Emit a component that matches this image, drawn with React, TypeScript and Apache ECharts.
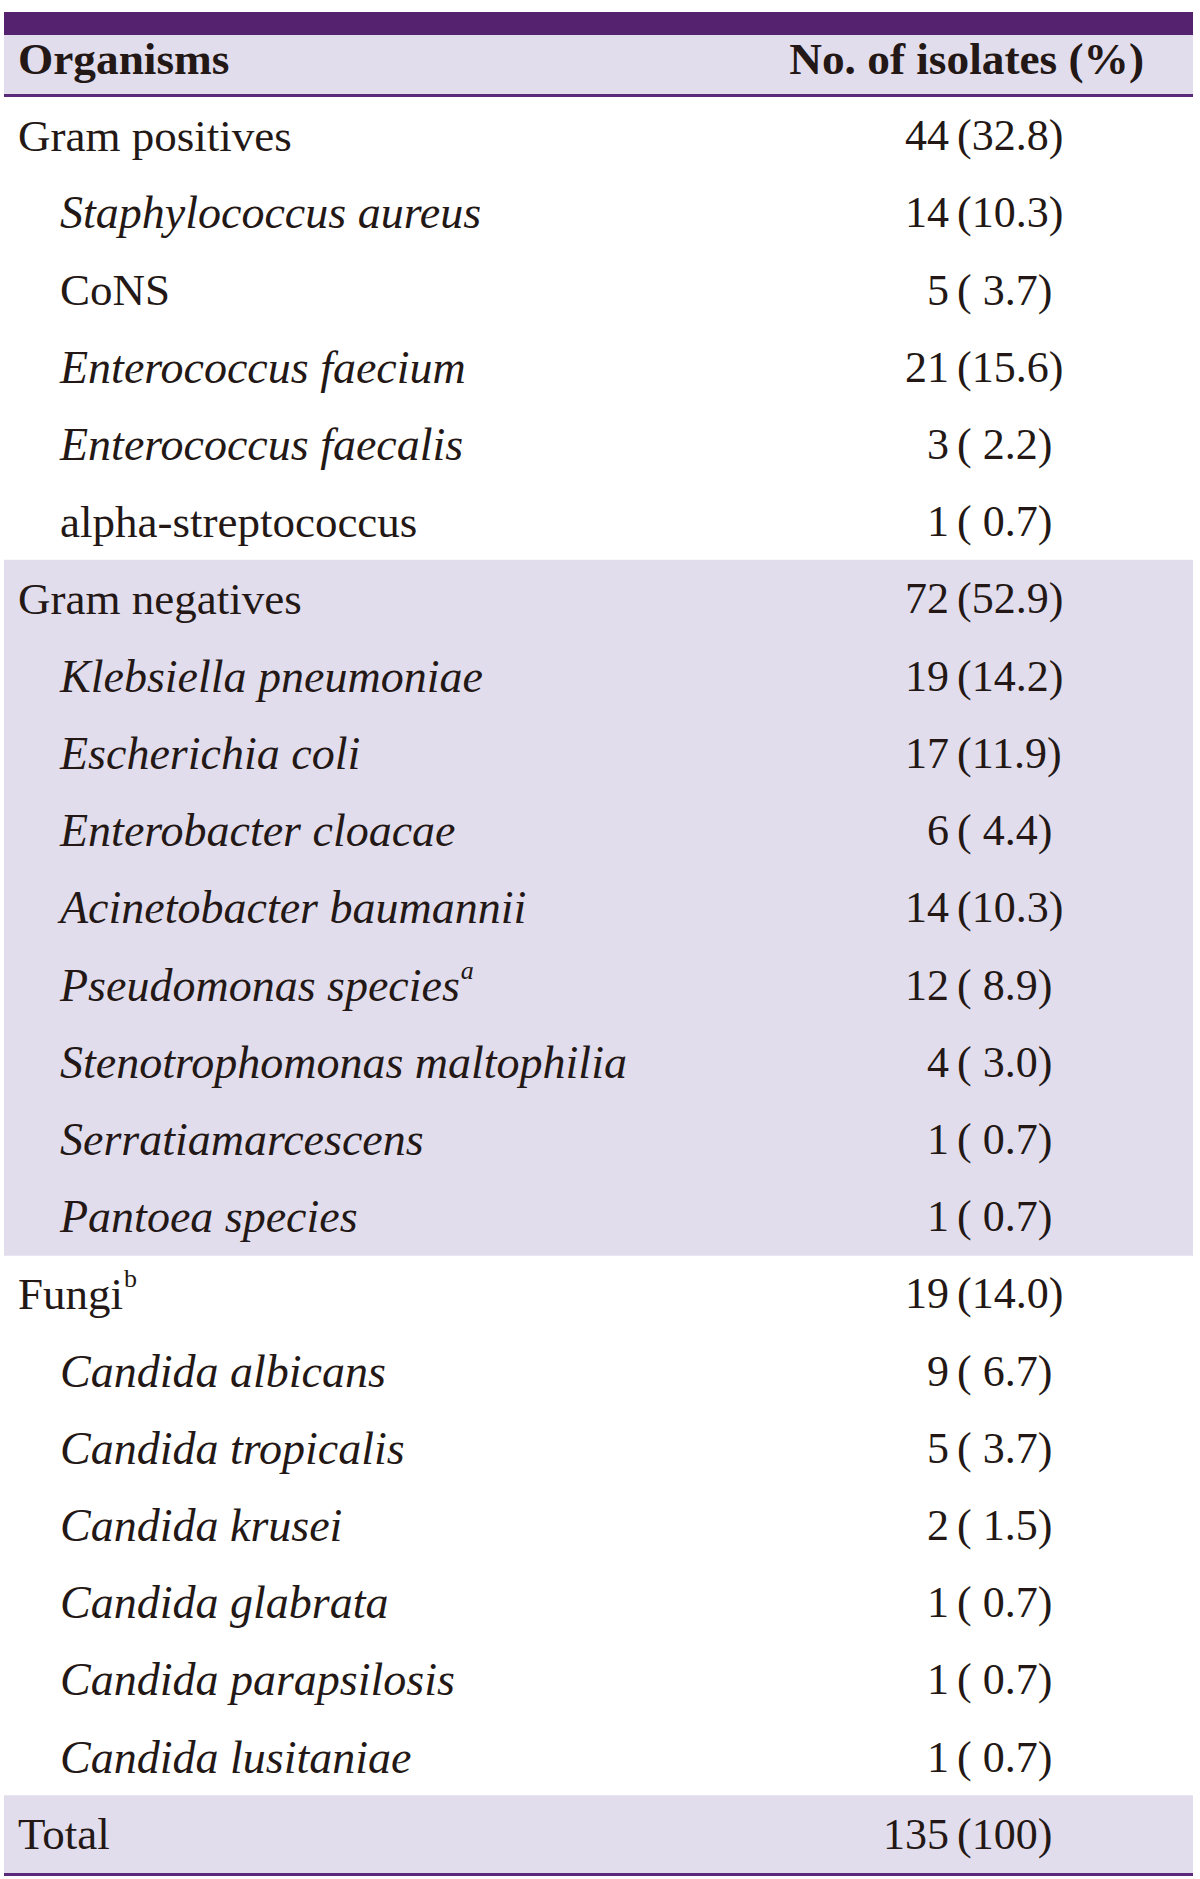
import React, { useEffect, useRef } from "react";
import * as echarts from "echarts";

// ---------- data ----------
const headers = ["Organisms", "No. of isolates (%)"];

const organisms = [
  "Gram positives",
  "Staphylococcus aureus",
  "CoNS",
  "Enterococcus faecium",
  "Enterococcus faecalis",
  "alpha-streptococcus",
  "Gram negatives",
  "Klebsiella pneumoniae",
  "Escherichia coli",
  "Enterobacter cloacae",
  "Acinetobacter baumannii",
  "Pseudomonas species",
  "Stenotrophomonas maltophilia",
  "Serratiamarcescens",
  "Pantoea species",
  "Fungi",
  "Candida albicans",
  "Candida tropicalis",
  "Candida krusei",
  "Candida glabrata",
  "Candida parapsilosis",
  "Candida lusitaniae",
  "Total",
];

// 0 = group heading, 1 = member of a group
const levels = [0, 1, 1, 1, 1, 1, 0, 1, 1, 1, 1, 1, 1, 1, 1, 0, 1, 1, 1, 1, 1, 1, 0];

// scientific (italic) names
const scientific = [
  false, true, false, true, true, false,
  false, true, true, true, true, true, true, true, true,
  false, true, true, true, true, true, true,
  false,
];

const footnotes = [
  "", "", "", "", "", "",
  "", "", "", "", "", "a", "", "", "",
  "b", "", "", "", "", "", "",
  "",
];

const counts = [44, 14, 5, 21, 3, 1, 72, 19, 17, 6, 14, 12, 4, 1, 1, 19, 9, 5, 2, 1, 1, 1, 135];

const percents = [
  32.8, 10.3, 3.7, 15.6, 2.2, 0.7,
  52.9, 14.2, 11.9, 4.4, 10.3, 8.9, 3.0, 0.7, 0.7,
  14.0, 6.7, 3.7, 1.5, 0.7, 0.7, 0.7,
  100,
];

const sections = [
  "pos", "pos", "pos", "pos", "pos", "pos",
  "neg", "neg", "neg", "neg", "neg", "neg", "neg", "neg", "neg",
  "fungi", "fungi", "fungi", "fungi", "fungi", "fungi", "fungi",
  "total",
];

const shadedSections = ["neg", "total"];

// ---------- styling ----------
const FONT = "'Liberation Serif', 'Times New Roman', serif";
const TEXT = "#231815";
const PURPLE = "#55226F";
const LINE = "#5A2A7A";
const BAND = "#E2DDED";
const FS_NUM = 44;
const FS_ROMAN = 45;
const FS_ITALIC = 46;
const FS_HEAD = 45.3;
const SUP_FS = 26;

const LEFT = 4;
const RIGHT = 1193;
const GROUP_X = 18;
const MEMBER_X = 60;
const COUNT_RIGHT = 949;
const PCT_LEFT = 957;

let measureCtx: CanvasRenderingContext2D | null = null;
function measure(text: string, italic: boolean, size: number): number {
  if (!measureCtx) {
    const c = document.createElement("canvas");
    measureCtx = c.getContext("2d");
  }
  if (!measureCtx) return text.length * size * 0.45;
  measureCtx.font = `${italic ? "italic " : ""}${size}px 'Liberation Serif'`;
  return measureCtx.measureText(text).width;
}

function fmtPct(p: number): string {
  const s = p === 100 ? "100" : p.toFixed(1);
  return p < 10 ? `( ${s})` : `(${s})`;
}

export default function App() {
  const ref = useRef<HTMLDivElement>(null);

  useEffect(() => {
    if (!ref.current) return;
    const chart = echarts.init(ref.current, undefined, { renderer: "svg" });

    const rowData = organisms.map((_, i) => [0, i]);

    const option: any = {
      animation: false,
      backgroundColor: "#ffffff",
      grid: { left: 0, right: 0, top: 97, bottom: 6, containLabel: false },
      xAxis: { type: "value", min: 0, max: 1200, show: false },
      yAxis: {
        type: "category",
        data: organisms,
        inverse: true,
        show: false,
      },
      graphic: [
        {
          type: "rect",
          shape: { x: LEFT, y: 12, width: RIGHT - LEFT, height: 23 },
          style: { fill: PURPLE },
          silent: true,
        },
        {
          type: "rect",
          shape: { x: LEFT, y: 35, width: RIGHT - LEFT, height: 59 },
          style: { fill: BAND },
          silent: true,
        },
        {
          type: "rect",
          shape: { x: LEFT, y: 94, width: RIGHT - LEFT, height: 3 },
          style: { fill: LINE },
          silent: true,
        },
        {
          type: "rect",
          shape: { x: LEFT, y: 1873, width: RIGHT - LEFT, height: 3 },
          style: { fill: LINE },
          silent: true,
          z: 100,
        },
        {
          type: "text",
          x: GROUP_X,
          y: 59,
          style: {
            text: headers[0],
            fill: TEXT,
            fontFamily: FONT,
            fontSize: FS_HEAD,
            fontWeight: "bold",
            align: "left",
            verticalAlign: "middle",
          },
        },
        {
          type: "text",
          x: 1144,
          y: 59,
          style: {
            text: headers[1],
            fill: TEXT,
            fontFamily: FONT,
            fontSize: FS_HEAD,
            fontWeight: "bold",
            align: "right",
            verticalAlign: "middle",
          },
        },
      ],
      series: [
        {
          type: "custom",
          clip: false,
          data: rowData,
          encode: { x: 0, y: 1 },
          renderItem: (params: any, api: any) => {
            const idx = api.value(1) as number;
            const c = api.coord([0, idx]);
            const cy = c[1];
            const bandH = api.size([0, 1])[1];
            const children: any[] = [];
            if (shadedSections.indexOf(sections[idx]) >= 0) {
              children.push({
                type: "rect",
                shape: {
                  x: LEFT,
                  y: cy - bandH / 2 - 0.5,
                  width: RIGHT - LEFT,
                  height: bandH + 1,
                },
                style: { fill: BAND },
              });
            }
            const italic = scientific[idx];
            const fs = italic ? FS_ITALIC : FS_ROMAN;
            const lx = levels[idx] === 0 ? GROUP_X : MEMBER_X;
            children.push({
              type: "text",
              x: lx,
              y: cy,
              style: {
                text: organisms[idx],
                fill: TEXT,
                fontFamily: FONT,
                fontSize: fs,
                fontStyle: italic ? "italic" : "normal",
                align: "left",
                verticalAlign: "middle",
              },
            });
            if (footnotes[idx]) {
              const w = measure(organisms[idx], italic, fs);
              children.push({
                type: "text",
                x: lx + w + 1,
                y: cy - 15,
                style: {
                  text: footnotes[idx],
                  fill: TEXT,
                  fontFamily: FONT,
                  fontSize: SUP_FS,
                  fontStyle: italic ? "italic" : "normal",
                  align: "left",
                  verticalAlign: "middle",
                },
              });
            }
            children.push({
              type: "text",
              x: COUNT_RIGHT,
              y: cy,
              style: {
                text: String(counts[idx]),
                fill: TEXT,
                fontFamily: FONT,
                fontSize: FS_NUM,
                align: "right",
                verticalAlign: "middle",
              },
            });
            children.push({
              type: "text",
              x: PCT_LEFT,
              y: cy,
              style: {
                text: fmtPct(percents[idx]),
                fill: TEXT,
                fontFamily: FONT,
                fontSize: FS_NUM,
                align: "left",
                verticalAlign: "middle",
              },
            });
            return { type: "group", children };
          },
        },
      ],
    };

    chart.setOption(option);
    return () => {
      chart.dispose();
    };
  }, []);

  return (
    <div
      ref={ref}
      style={{ position: "absolute", left: 0, top: 0, width: 1200, height: 1879 }}
    />
  );
}
